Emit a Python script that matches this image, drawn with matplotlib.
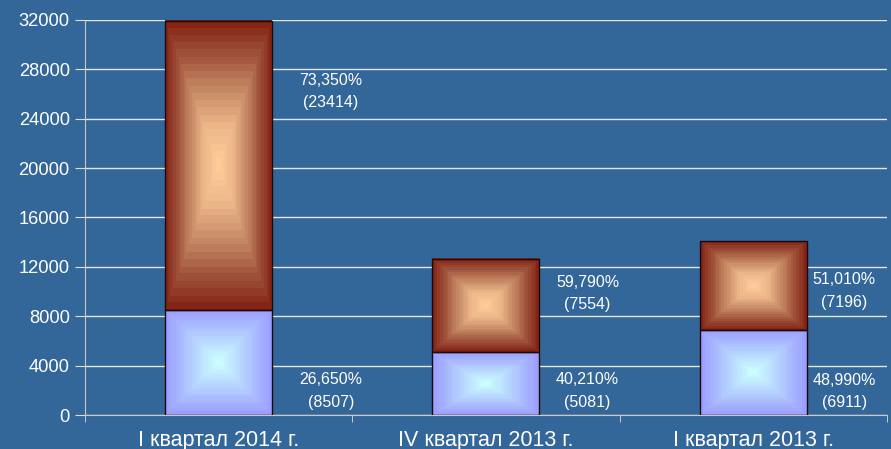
import numpy as np
import matplotlib
matplotlib.use('Agg')
import matplotlib.pyplot as plt
from matplotlib.colors import LinearSegmentedColormap
from matplotlib.patches import Rectangle

plt.rcParams['font.family'] = ['Liberation Sans', 'DejaVu Sans']

# Data
categories = ['I квартал 2014 г.', 'IV квартал 2013 г.', 'I квартал 2013 г.']
bottom_vals = [8507, 5081, 6911]
top_vals = [23414, 7554, 7196]
bottom_pct = ['26,650%', '40,210%', '48,990%']
top_pct = ['73,350%', '59,790%', '51,010%']

# label anchors (value units) and horizontal offsets (category units)
top_label_y = [26200, 9850, 10050]
bottom_label_y = [1950, 1950, 1900]
label_dx = [0.42, 0.38, 0.34]

BG = '#336699'
BAR_W = 0.4
STEPS = 20

top_cmap = LinearSegmentedColormap.from_list(
    'top', [(0, '#ffcc99'), (0.25, '#ecb689'), (0.5, '#c58864'),
            (0.75, '#9e5038'), (1, '#7f1a10')])
bot_cmap = LinearSegmentedColormap.from_list('bot', ['#ccffff', '#9999ff'])


def box_gradient(ax, x0, y0, w, h, cmap):
    n = 300
    u = np.linspace(-1, 1, n)
    X, Y = np.meshgrid(u, u)
    t = np.maximum(np.abs(X), np.abs(Y))
    t = np.floor(t * STEPS) / STEPS
    ax.imshow(t, cmap=cmap, vmin=0, vmax=1, extent=(x0, x0 + w, y0, y0 + h),
              aspect='auto', interpolation='nearest', zorder=2, origin='lower')
    ax.add_patch(Rectangle((x0, y0), w, h, fill=False, edgecolor='#1a0a0a',
                           linewidth=1.0, zorder=3))


fig = plt.figure(figsize=(8.91, 4.49), dpi=100)
fig.patch.set_facecolor(BG)
ax = fig.add_axes([0.0954, 0.0757, 0.9, 0.8798])
ax.set_facecolor(BG)

for i in range(len(categories)):
    x0 = i - BAR_W / 2
    box_gradient(ax, x0, 0, BAR_W, bottom_vals[i], bot_cmap)
    box_gradient(ax, x0, bottom_vals[i], BAR_W, top_vals[i], top_cmap)
    ax.text(i + label_dx[i], top_label_y[i], f'{top_pct[i]}\n({top_vals[i]})',
            ha='center', va='center', color='white', fontsize=11.5, linespacing=1.6, zorder=4)
    ax.text(i + label_dx[i], bottom_label_y[i], f'{bottom_pct[i]}\n({bottom_vals[i]})',
            ha='center', va='center', color='white', fontsize=11.5, linespacing=1.6, zorder=4)

ax.set_xlim(-0.5, len(categories) - 0.5)
ax.set_ylim(0, 32000)
ax.set_yticks(np.arange(0, 32001, 4000))
ax.set_xticks(range(len(categories)))
ax.set_xticklabels(categories)
ax.set_xticks(np.arange(-0.5, len(categories), 1), minor=True)
ax.tick_params(axis='x', which='major', length=0, pad=11, labelsize=15.5, colors='white')
ax.tick_params(axis='x', which='minor', length=5, color='#dddddd', direction='out')
ax.tick_params(axis='y', length=7, color='#dddddd', labelsize=13.2, colors='white', pad=4)
ax.yaxis.grid(True, color='#e6e6e6', linewidth=1)
ax.set_axisbelow(True)

for s in ['top', 'right']:
    ax.spines[s].set_visible(False)
ax.spines['left'].set_color('#c8c8c8')
ax.spines['bottom'].set_color('#c8c8c8')

fig.savefig('out.png', dpi=100, facecolor=BG)
